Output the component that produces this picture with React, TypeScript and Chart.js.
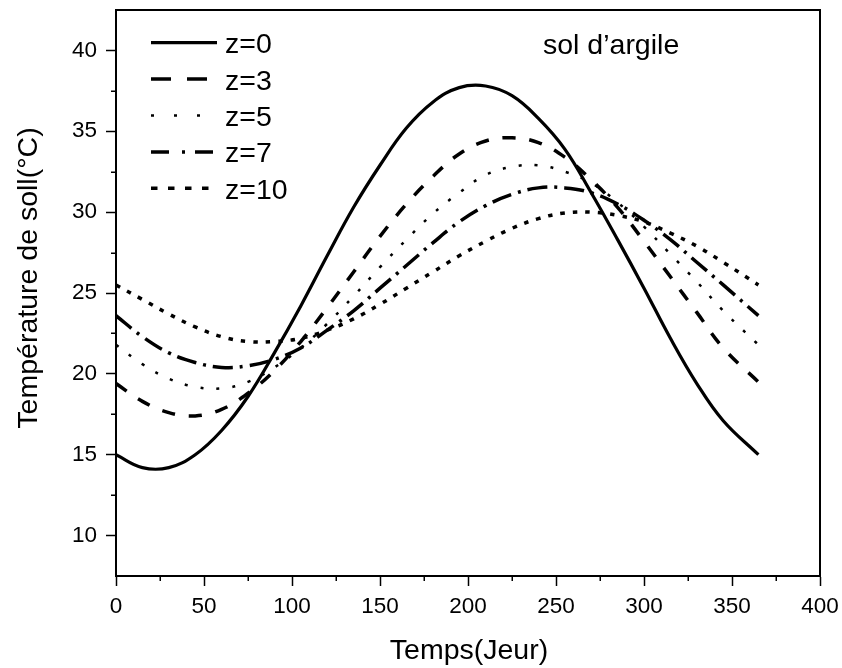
import React, { useEffect, useRef } from 'react';
import { Chart, registerables } from 'chart.js';

Chart.register(...registerables);

// ---- data ----
const days = [0, 15, 30, 45, 60, 75, 90, 105, 120, 135, 150, 165, 180, 195, 210, 225, 240, 255, 270, 285, 300, 315, 330, 345, 365];
const z0 = [15.0, 14.2, 14.2, 15.0, 16.5, 18.6, 21.3, 24.2, 27.3, 30.3, 32.9, 35.2, 36.8, 37.7, 37.8, 37.2, 35.8, 33.9, 31.2, 28.3, 25.3, 22.2, 19.4, 17.1, 15.0];
const z3 = [19.4, 18.3, 17.6, 17.4, 17.8, 18.8, 20.2, 22.0, 24.1, 26.3, 28.5, 30.5, 32.2, 33.6, 34.4, 34.6, 34.3, 33.4, 32.0, 30.3, 28.2, 26.0, 23.8, 21.6, 19.5];
const z5 = [21.8, 20.6, 19.7, 19.2, 19.1, 19.5, 20.4, 21.6, 23.1, 24.8, 26.6, 28.3, 29.9, 31.2, 32.3, 32.8, 32.9, 32.5, 31.8, 30.6, 29.1, 27.4, 25.7, 23.9, 21.8];
const z7 = [23.6, 22.3, 21.3, 20.7, 20.4, 20.5, 20.9, 21.6, 22.7, 23.9, 25.3, 26.7, 28.1, 29.4, 30.4, 31.1, 31.5, 31.5, 31.2, 30.5, 29.5, 28.3, 26.9, 25.5, 23.6];
const z10 = [25.5, 24.6, 23.7, 22.9, 22.3, 22.0, 22.0, 22.2, 22.7, 23.4, 24.3, 25.3, 26.3, 27.3, 28.2, 29.0, 29.6, 29.95, 30.0, 29.8, 29.4, 28.7, 27.9, 26.9, 25.5];
const seriesLabels = ['z=0', 'z=3', 'z=5', 'z=7', 'z=10'];

const xTicks = [0, 50, 100, 150, 200, 250, 300, 350, 400];
const xMinorTicks = [25, 75, 125, 175, 225, 275, 325, 375];
const yTicks = [10, 15, 20, 25, 30, 35, 40];
const yMinorTicks = [12.5, 17.5, 22.5, 27.5, 32.5, 37.5];

const xTitle = 'Temps(Jeur)';
const yTitle = 'Température de soll(°C)';
const annotationText = 'sol d’argile';

// ---- styles ----
const FONT = '"Liberation Sans", Arial, Helvetica, sans-serif';
const styles = [
  { width: 3.2, dash: [] as number[], legendDash: [] as number[] },
  { width: 3.5, dash: [13, 14], legendDash: [20, 16] },
  { width: 2.5, dash: [3, 13], legendDash: [3, 20] },
  { width: 3.5, dash: [20, 7, 3, 7], legendDash: [18, 13, 3, 10] },
  { width: 3.5, dash: [4.5, 8], legendDash: [6.5, 10.5] },
];
const seriesValues = [z0, z3, z5, z7, z10];

const decorPlugin = {
  id: 'decor',
  afterDraw(chart: any) {
    const { ctx, chartArea: a, scales } = chart;
    const x = scales.x;
    const y = scales.y;
    ctx.save();
    ctx.strokeStyle = '#000';
    ctx.fillStyle = '#000';
    ctx.lineCap = 'butt';

    // frame: top and right
    ctx.lineWidth = 2;
    ctx.beginPath();
    ctx.moveTo(a.left - 1, a.top);
    ctx.lineTo(a.right, a.top);
    ctx.lineTo(a.right, a.bottom + 1);
    ctx.stroke();

    // minor ticks
    ctx.lineWidth = 1.5;
    ctx.beginPath();
    xMinorTicks.forEach((v) => {
      const px = Math.round(x.getPixelForValue(v)) + 0.25;
      ctx.moveTo(px, a.bottom);
      ctx.lineTo(px, a.bottom + 5);
    });
    yMinorTicks.forEach((v) => {
      const py = Math.round(y.getPixelForValue(v)) + 0.25;
      ctx.moveTo(a.left - 5, py);
      ctx.lineTo(a.left, py);
    });
    ctx.stroke();

    // legend
    ctx.font = `28.5px ${FONT}`;
    ctx.textAlign = 'left';
    ctx.textBaseline = 'alphabetic';
    chart.data.datasets.forEach((ds: any, i: number) => {
      const yy = a.top + 32.7 + i * 36.4;
      ctx.lineWidth = ds.borderWidth;
      ctx.setLineDash(styles[i].legendDash);
      ctx.beginPath();
      ctx.moveTo(a.left + 35, yy);
      ctx.lineTo(a.left + 101, yy);
      ctx.stroke();
      ctx.setLineDash([]);
      ctx.fillText(ds.label, a.left + 109, yy + 10.5);
    });

    // annotation
    ctx.fillText(annotationText, 543, 53.5);

    // axis titles
    ctx.textAlign = 'center';
    ctx.fillText(xTitle, (a.left + a.right) / 2 + 1, 658.5);
    ctx.save();
    ctx.translate(37, 278);
    ctx.rotate(-Math.PI / 2);
    ctx.fillText(yTitle, 0, 0);
    ctx.restore();

    ctx.restore();
  },
};

export default function App() {
  const canvasRef = useRef<HTMLCanvasElement | null>(null);

  useEffect(() => {
    const canvas = canvasRef.current;
    if (!canvas) return;
    const datasets = seriesValues.map((vals, i) => ({
      label: seriesLabels[i],
      data: days.map((d, k) => ({ x: d, y: vals[k] })),
      borderColor: '#000',
      backgroundColor: '#000',
      borderWidth: styles[i].width,
      borderDash: styles[i].dash,
      borderCapStyle: 'butt' as const,
      pointRadius: 0,
      pointHoverRadius: 0,
      tension: 0.4,
      fill: false,
    }));

    const chart = new Chart(canvas, {
      type: 'line',
      data: { datasets },
      options: {
        animation: false,
        responsive: false,
        devicePixelRatio: 1,
        events: [],
        layout: { padding: { left: 0, top: 10, right: 22, bottom: 0 } },
        plugins: {
          legend: { display: false },
          tooltip: { enabled: false },
          title: { display: false },
        },
        scales: {
          x: {
            type: 'linear',
            min: 0,
            max: 400,
            afterBuildTicks: (scale: any) => {
              scale.ticks = xTicks.map((v) => ({ value: v }));
            },
            afterFit: (scale: any) => {
              scale.height = 92;
              scale.paddingLeft = 0;
              scale.paddingRight = 0;
              scale.paddingTop = 0;
              scale.paddingBottom = 0;
            },
            grid: {
              display: true,
              drawOnChartArea: false,
              drawTicks: true,
              tickLength: 10,
              tickWidth: 1.5,
              tickColor: '#000',
            },
            border: { display: true, color: '#000', width: 2 },
            ticks: {
              color: '#000',
              font: { family: FONT, size: 22.5 },
              padding: 7,
              maxRotation: 0,
              autoSkip: false,
            },
          },
          y: {
            type: 'linear',
            min: 7.5,
            max: 42.5,
            afterBuildTicks: (scale: any) => {
              scale.ticks = yTicks.map((v) => ({ value: v }));
            },
            afterFit: (scale: any) => {
              scale.width = 116;
              scale.paddingLeft = 0;
              scale.paddingRight = 0;
              scale.paddingTop = 0;
              scale.paddingBottom = 0;
            },
            grid: {
              display: true,
              drawOnChartArea: false,
              drawTicks: true,
              tickLength: 10,
              tickWidth: 1.5,
              tickColor: '#000',
            },
            border: { display: true, color: '#000', width: 2 },
            ticks: {
              color: '#000',
              font: { family: FONT, size: 22.5 },
              padding: 9,
              autoSkip: false,
            },
          },
        },
      },
      plugins: [decorPlugin],
    });

    return () => {
      chart.destroy();
    };
  }, []);

  return (
    <div style={{ position: 'absolute', left: 0, top: 0, width: 842, height: 668, background: '#fff' }}>
      <canvas ref={canvasRef} width={842} height={668} style={{ display: 'block', width: 842, height: 668 }} />
    </div>
  );
}
